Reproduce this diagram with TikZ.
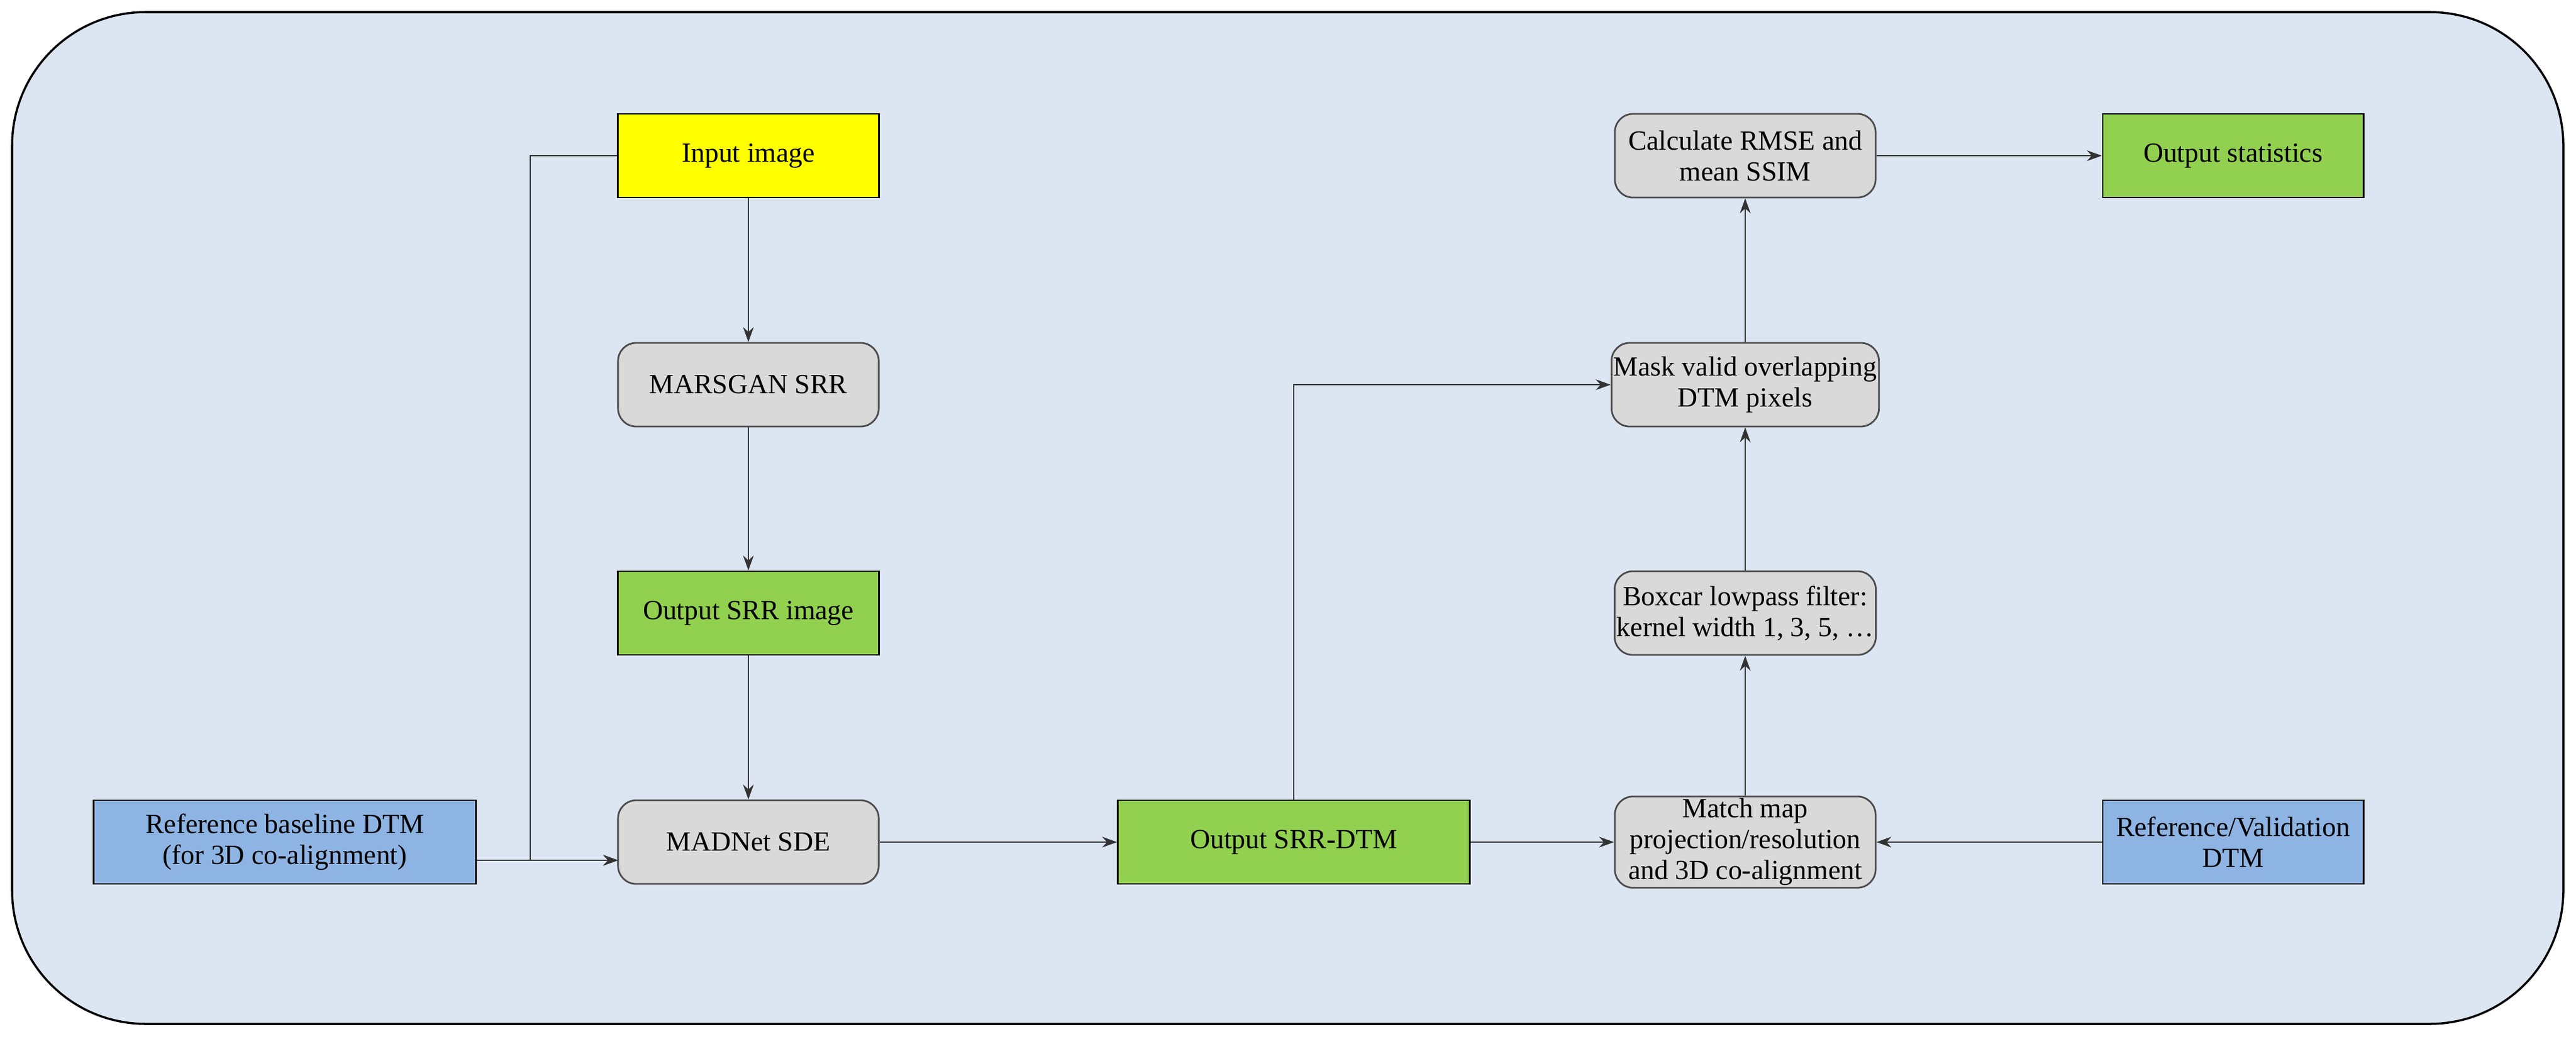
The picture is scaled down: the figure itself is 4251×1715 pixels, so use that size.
\documentclass[tikz,border=0pt]{standalone}
\usepackage{fontspec}
\setmainfont{Liberation Serif}
\usetikzlibrary{arrows.meta}
\definecolor{bgc}{HTML}{DCE6F2}
\definecolor{yel}{HTML}{FFFF00}
\definecolor{grn}{HTML}{92D050}
\definecolor{blu}{HTML}{8EB4E3}
\definecolor{gry}{HTML}{D9D9D9}
\begin{document}
\begin{tikzpicture}[x=0.01cm,y=-0.01cm,
  box/.style={draw=black, line width=0.8pt, minimum width=4.3cm, minimum height=1.38cm, inner sep=1pt, align=center, font=\fontsize{13}{14.5}\selectfont},
  proc/.style={box, fill=gry, rounded corners=0.3cm, draw=black!70},
  arr/.style={-{Stealth[length=7pt,width=5pt]}, line width=0.6pt, black!80}]
\useasboundingbox (0,0) rectangle (4251,1715);
\draw[fill=bgc, draw=black, line width=1pt, rounded corners=2.2cm] (20,20) rectangle (4230,1690);
\node[box, fill=yel] (inp) at (1235,257) {Input image};
\node[proc] (gan) at (1235,635) {MARSGAN SRR};
\node[box, fill=grn] (srr) at (1235,1012) {Output SRR image};
\node[proc] (mad) at (1235,1390) {MADNet SDE};
\node[box, fill=blu, minimum width=6.3cm] (ref) at (470,1390) {Reference baseline DTM\\(for 3D co-alignment)};
\node[box, fill=grn, minimum width=5.8cm] (dtm) at (2135,1390) {Output SRR-DTM};
\node[proc] (mat) at (2880,1390) {Match map\\projection/resolution\\and 3D co-alignment};
\node[box, fill=blu] (val) at (3685,1390) {Reference/Validation\\DTM};
\node[proc] (box) at (2880,1012) {Boxcar lowpass filter:\\kernel width 1, 3, 5, \dots};
\node[proc] (msk) at (2880,635) {Mask valid overlapping\\DTM pixels};
\node[proc] (cal) at (2880,257) {Calculate RMSE and\\mean SSIM};
\node[box, fill=grn] (out) at (3685,257) {Output statistics};
\coordinate (m) at (1020,1420);
\draw[arr] (inp) -- (gan);
\draw[arr] (gan) -- (srr);
\draw[arr] (srr) -- (mad);
\draw[arr] (inp.west) -| (875,1420) -- (m);
\draw[arr] (ref.east |- m) -- (m);
\draw[arr] (mad) -- (dtm);
\draw[arr] (dtm) -- (mat);
\draw[arr] (val) -- (mat);
\draw[arr] (mat) -- (box);
\draw[arr] (box) -- (msk);
\draw[arr] (msk) -- (cal);
\draw[arr] (cal) -- (out);
\draw[arr] (dtm.north) |- (msk.west);
\end{tikzpicture}
\end{document}
